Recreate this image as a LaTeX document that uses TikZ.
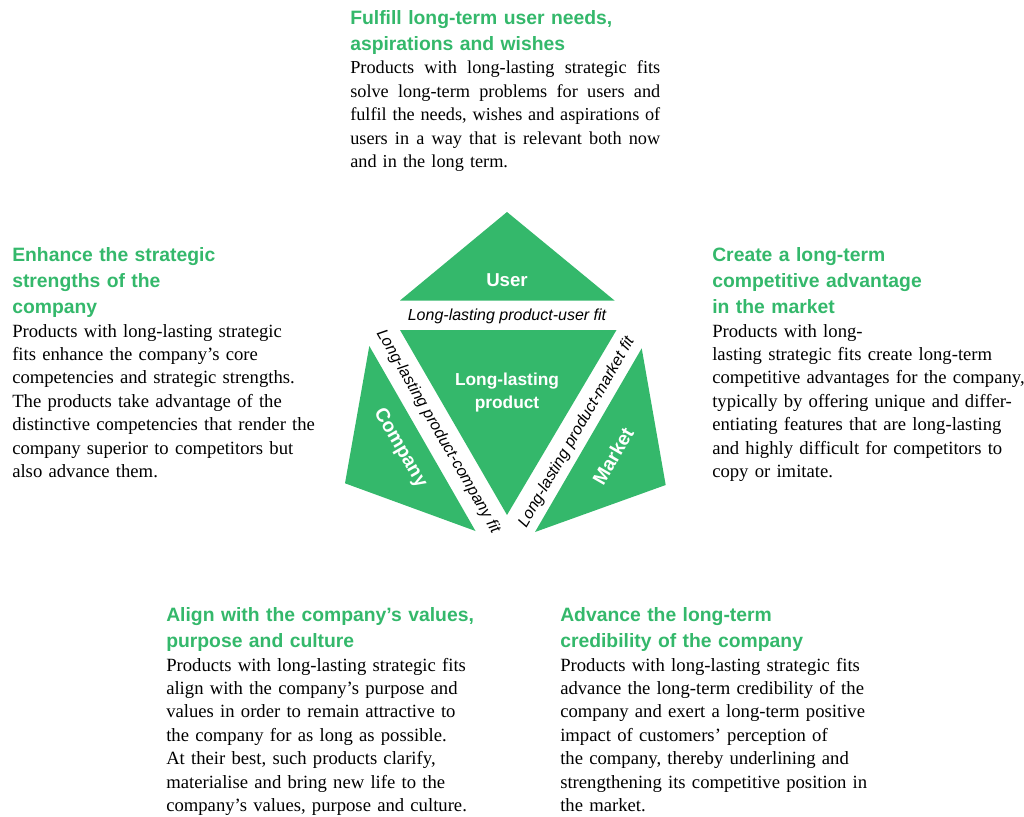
\documentclass[tikz,border=0pt]{standalone}
\usepackage{fontspec}
\setmainfont{Liberation Serif}
\setsansfont{Liberation Sans}
\usetikzlibrary{positioning}
\definecolor{fitgreen}{RGB}{52,184,107}
% one justified line of the top text block
\newcommand{\jline}[1]{\leavevmode\hbox to 232.5pt{\spaceskip=0.25em plus 0.6em minus 0.06em\relax #1}}
\tikzset{
  headtxt/.style={anchor=base west, inner sep=0, align=left, text width=240pt, text=fitgreen,
    font=\sffamily\bfseries\fontsize{14.5}{19.5}\selectfont},
  bodytxt/.style={anchor=base west, inner sep=0, align=left, text width=240pt,
    font=\fontsize{14}{17.6}\selectfont},
  piecetxt/.style={inner sep=0, align=center, text=white,
    font=\sffamily\bfseries\fontsize{13}{17}\selectfont},
  sidetxt/.style={piecetxt, font=\sffamily\bfseries\fontsize{14.5}{17}\selectfont},
  fittxt/.style={inner sep=0, font=\sffamily\itshape\fontsize{12}{14}\selectfont},
  piece/.style={fill=fitgreen, draw=none}
}
\begin{document}
\begin{tikzpicture}[x=0.75pt,y=0.75pt,yscale=-1,xscale=1]
    \useasboundingbox (0,0) rectangle (1024,817);

    %Shape: Triangle [id:user]
    \draw [piece] (507,212) -- (400,300.5) -- (614.5,300.5) -- cycle ;
    %Shape: Triangle [id:product]
    \draw [piece] (400,330) -- (616.5,330) -- (507,515) -- cycle ;
    %Shape: Triangle [id:company]
    \draw [piece] (369.3,346) -- (345,483.3) -- (475.5,531) -- cycle ;
    %Shape: Triangle [id:market]
    \draw [piece] (641.7,348.3) -- (665.7,485) -- (535,532) -- cycle ;

    % labels inside the shapes
    \node [piecetxt, font=\sffamily\bfseries\fontsize{14}{17}\selectfont] (userlbl) at (507,280) {User};
    \node [piecetxt, anchor=base] (prodlbl) at (507,408) {Long-lasting\\product};
    \node [sidetxt, rotate=-60] (complbl) at (400,448) {Company};
    \node [sidetxt, rotate=60] (mktlbl) at (613,456) {Market};

    % fit labels in the white strips
    \node [fittxt, anchor=base] (userfit) at (507,320.7) {Long-lasting product-user fit};
    \node [fittxt, rotate=-60] (compfit) at (438,431.5) {Long-lasting product-company fit};
    \node [fittxt, rotate=60] (mktfit) at (576.7,432.5) {Long-lasting product-market fit};

    % top: user
    \node [headtxt] (userhead) at (350,25) {Fulfill long-term user needs,\\aspirations and wishes};
    \node [bodytxt, text width=232.5pt, font=\fontsize{13.7}{17.6}\selectfont] (userbody) at (350,74) {%
      \jline{Products with long-lasting strategic fits}\\
      \jline{solve long-term problems for users and}\\
      \jline{fulfil the needs, wishes and aspirations of}\\
      \jline{users in a way that is relevant both now}\\
      and in the long term.};

    % left: company
    \node [headtxt] (comphead) at (12,261) {Enhance the strategic\\strengths of the\\company};
    \node [bodytxt] (compbody) at (12,337) {Products with long-lasting strategic\\
      fits enhance the company’s core\\
      competencies and strategic strengths.\\
      The products take advantage of the\\
      distinctive competencies that render the\\
      company superior to competitors but\\
      also advance them.};

    % right: market
    \node [headtxt] (mkthead) at (712,261) {Create a long-term\\competitive advantage\\in the market};
    \node [bodytxt] (mktbody) at (712,337) {Products with long-\\
      lasting strategic fits create long-term\\
      competitive advantages for the company,\\
      typically by offering unique and differ-\\
      entiating features that are long-lasting\\
      and highly difficult for competitors to\\
      copy or imitate.};

    % bottom left: values
    \node [headtxt] (valhead) at (166,621) {Align with the company’s values,\\purpose and culture};
    \node [bodytxt] (valbody) at (166,671) {Products with long-lasting strategic fits\\
      align with the company’s purpose and\\
      values in order to remain attractive to\\
      the company for as long as possible.\\
      At their best, such products clarify,\\
      materialise and bring new life to the\\
      company’s values, purpose and culture.};

    % bottom right: credibility
    \node [headtxt] (credhead) at (560,621) {Advance the long-term\\credibility of the company};
    \node [bodytxt] (credbody) at (560,671) {Products with long-lasting strategic fits\\
      advance the long-term credibility of the\\
      company and exert a long-term positive\\
      impact of customers’ perception of\\
      the company, thereby underlining and\\
      strengthening its competitive position in\\
      the market.};

\end{tikzpicture}
\end{document}
